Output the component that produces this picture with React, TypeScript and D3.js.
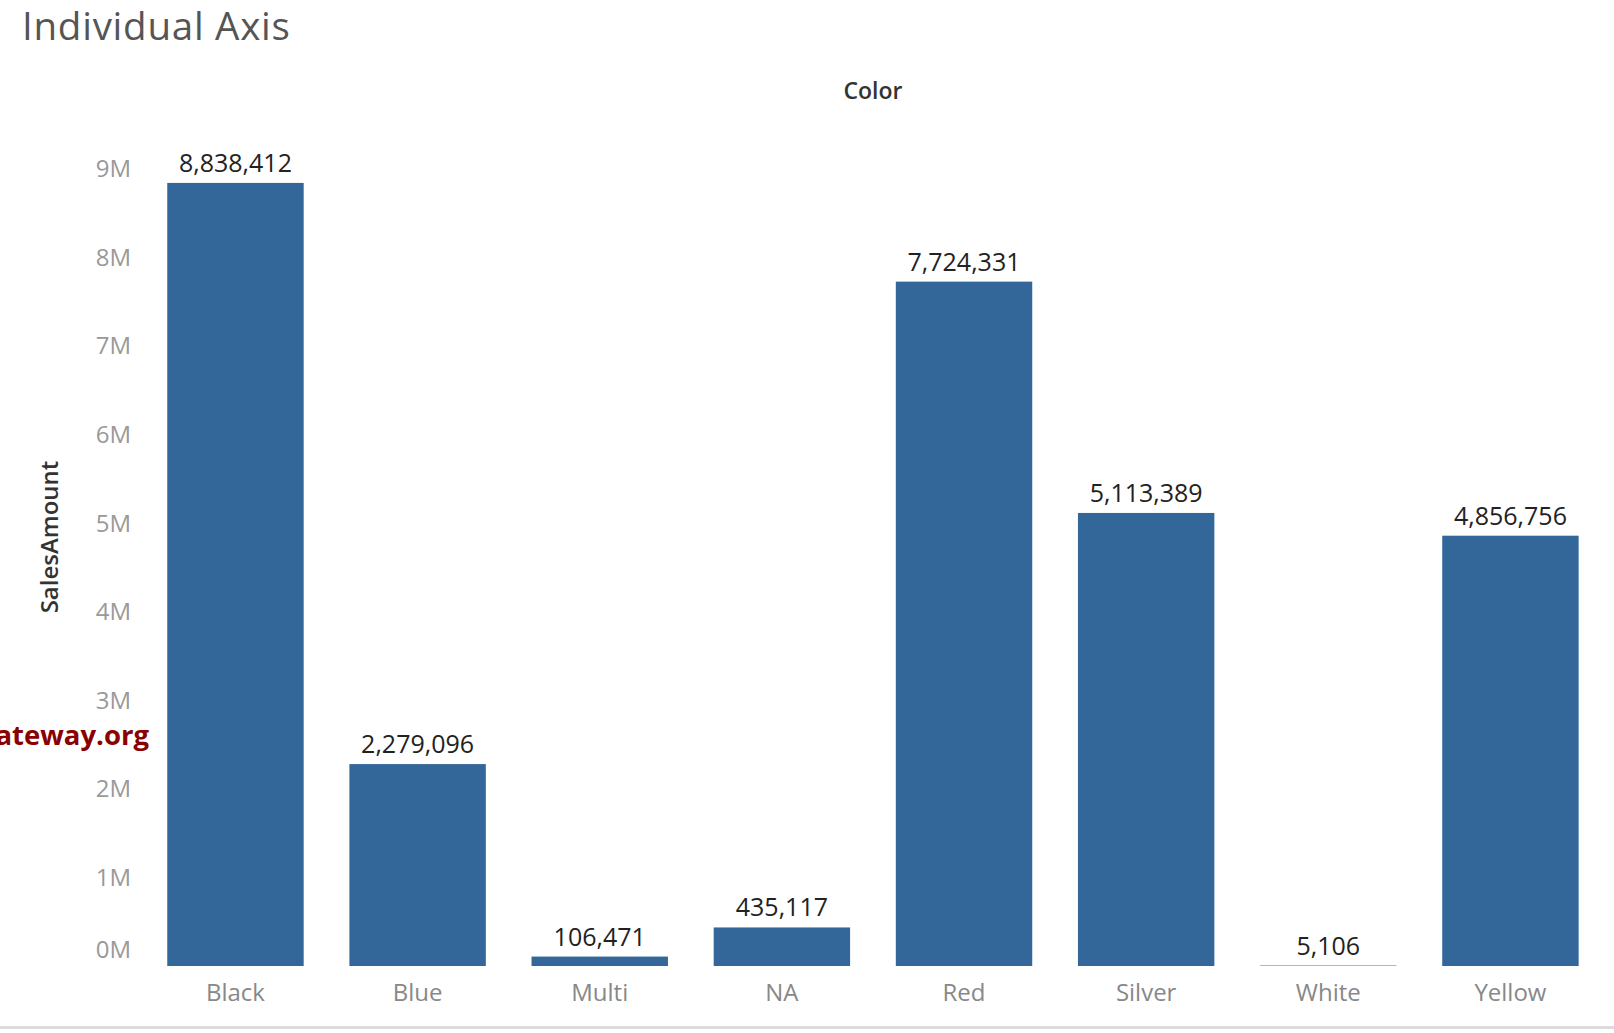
import React from "react";
import * as d3 from "d3";

const categories = ["Black", "Blue", "Multi", "NA", "Red", "Silver", "White", "Yellow"];
const salesAmount = [8838412, 2279096, 106471, 435117, 7724331, 5113389, 5106, 4856756];
const yTicks = [0, 1000000, 2000000, 3000000, 4000000, 5000000, 6000000, 7000000, 8000000, 9000000];

const W = 1614;
const H = 1033;
const FONT = "'Open Sans', 'Noto Sans', sans-serif";
const BAR = "#33679a";

export default function App() {
  const x = d3
    .scaleBand<string>()
    .domain(categories)
    .range([144.4, 1601.5])
    .paddingInner(0.251)
    .paddingOuter(0.1255);
  const y = d3.scaleLinear().domain([0, 9000000]).range([966, 168.6]);
  const fmt = d3.format(",");
  const tickFmt = (v: number) => `${v / 1000000}M`;

  return (
    <svg
      width={W}
      height={H}
      style={{ position: "fixed", left: 0, top: 0, background: "#fff" }}
      fontFamily={FONT}
    >
      <rect x={0} y={0} width={W} height={H} fill="#fff" />
      <text x={22} y={39.5} fontSize={38.5} letterSpacing={0.75} fill="#555" fontWeight={400}>
        Individual Axis
      </text>
      <text x={873} y={99} fontSize={23} fill="#333" textAnchor="middle" fontWeight={600}>
        Color
      </text>
      <text
        transform={`translate(58,${537}) rotate(-90)`}
        fontSize={24}
        fill="#333"
        textAnchor="middle"
        fontWeight={600}
      >
        SalesAmount
      </text>

      {yTicks.map((t) => (
        <text
          key={t}
          x={131}
          y={t === 0 ? y(t) - 8 : y(t) + 8.5}
          fontSize={24}
          fill="#999"
          textAnchor="end"
        >
          {tickFmt(t)}
        </text>
      ))}

      <text x={149} y={745} fontSize={27.5} fill="#8b0000" fontWeight={700} textAnchor="end">
        www.tutorialgateway.org
      </text>

      {categories.map((c, i) => {
        const v = salesAmount[i];
        const x0 = x(c) as number;
        const bw = x.bandwidth();
        return (
          <g key={c}>
            <rect x={x0} y={y(v)} width={bw} height={y(0) - y(v)} fill={BAR} />
            <text
              x={x0 + bw / 2}
              y={y(v) - 11}
              fontSize={25}
              fill="#222"
              textAnchor="middle"
            >
              {fmt(v)}
            </text>
            <text x={x0 + bw / 2} y={1001} fontSize={24} fill="#888" textAnchor="middle">
              {c}
            </text>
          </g>
        );
      })}

      <rect x={0} y={1026} width={W} height={3} fill="#dcdcdc" />
    </svg>
  );
}
